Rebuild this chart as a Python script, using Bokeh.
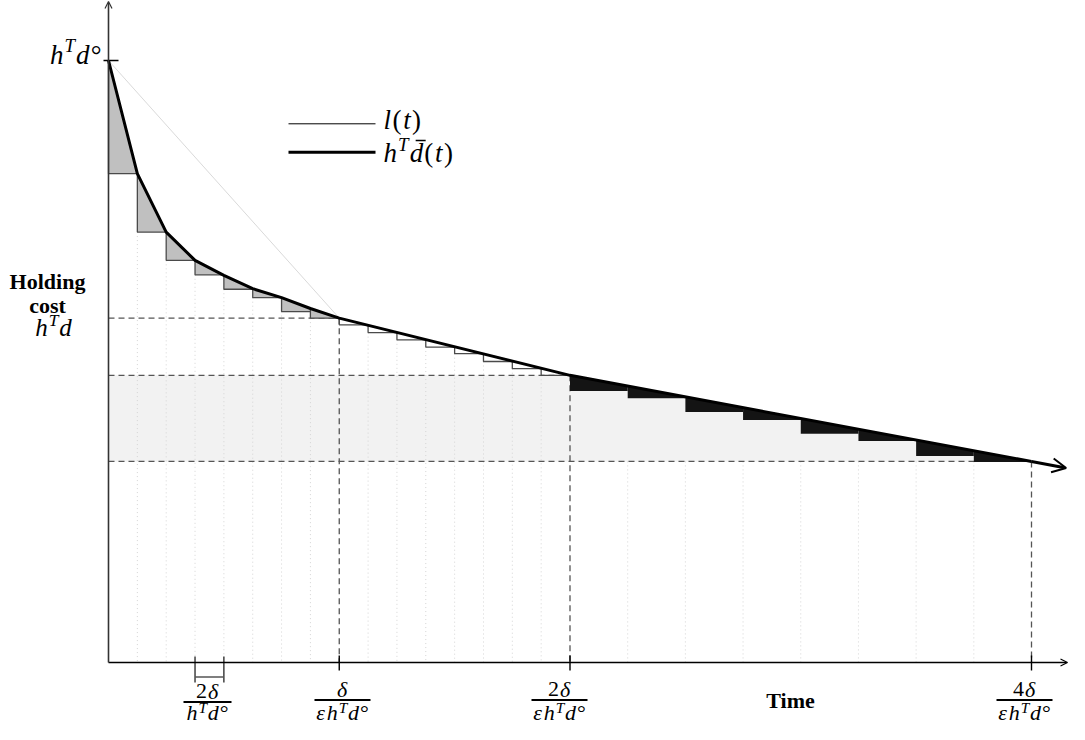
import numpy as np
from bokeh.plotting import figure
from bokeh.models import Range1d, Arrow, OpenHead
from bokeh.core.properties import value
from bokeh.embed import file_html
from bokeh.resources import INLINE

# ---------------- data (time in units of 2δ/(hᵀd°), cost with hᵀd° = 100) ----------------
KNOT_T = [0, 1, 2, 3, 4, 5, 6, 7, 8, 16, 32]
KNOT_C = [100.0, 81.2, 71.5, 66.8, 64.3, 62.1, 60.6, 58.8, 57.2, 47.7, 33.4]
CURVE_TIP_T, CURVE_TIP_C = 33.2, 32.3

STEP1_T = [0, 1, 2, 3, 4, 5, 6, 7, 8]
STEP1_C = [81.2, 71.5, 66.8, 64.4, 62.0, 60.6, 58.3, 57.2]
STEP2_T = [8, 9, 10, 11, 12, 13, 14, 15, 16]
STEP2_C = [56.1, 54.8, 53.6, 52.4, 51.3, 50.0, 48.8, 47.7]
STEP3_T = [16, 18, 20, 22, 24, 26, 28, 30, 32]
STEP3_C = [45.1, 43.9, 41.6, 40.3, 38.0, 36.8, 34.3, 33.3]

LINE_T = [0, 8]          # l(t)
LINE_C = [100.0, 57.2]

TICK_T = [8, 16, 32]
LEVEL_C = [57.2, 47.7, 33.4]
SMALL_T = [3, 4]

# ---------------- geometry helpers (reference pixel -> data) ----------------
OX, OY = 108.0, 662.0
PX_T = 923.0 / 32.0
PX_C = 6.02
W_FIG, H_FIG = 1069, 724


def tx(px):
    return (px - OX) / PX_T


def cy(py):
    return (OY - py) / PX_C


def curve_at(t):
    return float(np.interp(t, KNOT_T, KNOT_C))


p = figure(width=W_FIG, height=H_FIG, output_backend="svg", toolbar_location=None,
           x_axis_type=None, y_axis_type=None,
           x_range=Range1d(tx(0), tx(W_FIG)), y_range=Range1d(cy(H_FIG), cy(0)),
           min_border=0, min_border_left=0, min_border_right=0,
           min_border_top=0, min_border_bottom=0)
p.grid.visible = False
p.outline_line_color = None
p.background_fill_color = "white"
p.border_fill_color = "white"

# light grey band under the staircase
bx = [0, 0, 16]
by = [LEVEL_C[2], LEVEL_C[1], LEVEL_C[1]]
for i in range(len(STEP3_C)):
    bx += [STEP3_T[i], STEP3_T[i + 1]]
    by += [STEP3_C[i], STEP3_C[i]]
bx += [32]
by += [LEVEL_C[2]]
p.patch(bx, by, fill_color="#f2f2f2", line_color=None)

# faint dotted verticals
dxs, dys = [], []
for i in range(1, 8):
    dxs.append([STEP1_T[i], STEP1_T[i]]); dys.append([STEP1_C[i], 0])
for i in range(1, 8):
    dxs.append([STEP2_T[i], STEP2_T[i]]); dys.append([STEP2_C[i], 0])
for i in range(1, 8):
    dxs.append([STEP3_T[i], STEP3_T[i]]); dys.append([LEVEL_C[2], 0])
p.multi_line(dxs, dys, line_color="#d4d4d4", line_width=1, line_dash="1 3")

# dashed guide lines
for t, c in zip(TICK_T, LEVEL_C):
    p.line([0, t], [c, c], line_color="#555555", line_width=1.3, line_dash="6 4")
    p.line([t, t], [c, 0], line_color="#555555", line_width=1.3, line_dash="6 4")

# grey filled steps (region 1)
pxs, pys = [], []
for i in range(len(STEP1_C)):
    t0, t1 = STEP1_T[i], STEP1_T[i + 1]
    pxs.append([t0, t1, t1, t0]); pys.append([curve_at(t0), curve_at(t1), STEP1_C[i], STEP1_C[i]])
p.patches(pxs, pys, fill_color="#c0c0c0", line_color=None)

# black filled steps (region 3)
pxs, pys = [], []
for i in range(len(STEP3_C)):
    t0, t1 = STEP3_T[i], STEP3_T[i + 1]
    pxs.append([t0, t1, t1, t0]); pys.append([curve_at(t0), curve_at(t1), STEP3_C[i], STEP3_C[i]])
p.patches(pxs, pys, fill_color="#141414", line_color=None)

# staircase outlines
sxs, sys_ = [], []
for T, C in ((STEP1_T, STEP1_C), (STEP2_T, STEP2_C)):
    for i in range(len(C)):
        t0, t1 = T[i], T[i + 1]
        sxs.append([t0, t0, t1]); sys_.append([curve_at(t0), C[i], C[i]])
p.multi_line(sxs, sys_, line_color="#4a4a4a", line_width=1.3)

# l(t)
p.line(LINE_T, LINE_C, line_color="#cfcfcf", line_width=0.8)

# h^T d(t) thick curve with arrow
p.line(KNOT_T, KNOT_C, line_color="black", line_width=3, line_join="round")
p.add_layout(Arrow(x_start=KNOT_T[-1], y_start=KNOT_C[-1], x_end=CURVE_TIP_T, y_end=CURVE_TIP_C,
                   line_width=3, line_color="black",
                   end=OpenHead(size=14, line_width=2, line_color="black")))

# axes
p.add_layout(Arrow(x_start=0, y_start=0, x_end=tx(1067), y_end=0, line_width=1.3, line_color="black",
                   end=OpenHead(size=7, line_width=1.2, line_color="black")))
p.add_layout(Arrow(x_start=0, y_start=0, x_end=0, y_end=cy(1), line_width=1.6, line_color="#333333",
                   end=OpenHead(size=7, line_width=1.2, line_color="#333333")))

# ticks
p.line([tx(103), tx(118)], [KNOT_C[0], KNOT_C[0]], line_color="black", line_width=1.6)
for t in TICK_T:
    p.line([t, t], [cy(655), cy(670)], line_color="black", line_width=1.4)
for t in SMALL_T:
    p.line([t, t], [cy(656), cy(682)], line_color="#333333", line_width=1.4)
p.line([SMALL_T[0], SMALL_T[1]], [cy(676.5), cy(676.5)], line_color="#555555", line_width=1.3)

# legend lines
p.line([tx(288), tx(375)], [cy(123.3), cy(123.3)], line_color="black", line_width=1)
p.line([tx(288), tx(375)], [cy(151.7), cy(151.7)], line_color="black", line_width=3)

# ---------------- text ----------------
MATH = "Liberation Serif"
KB = 0.32   # empirical baseline correction (fraction of font size)
W = {'h': 0.5, 'd': 0.5, 'T': 0.556, 'l': 0.29, 't': 0.29, '(': 0.36, ')': 0.36,
     'δ': 0.5, 'ε': 0.44, '2': 0.5, '4': 0.5, '°': 0.4}


def put_text(x_px, base_px, txt, fs, style, align="left", font=MATH):
    p.text(x=[tx(x_px)], y=[cy(base_px - KB * fs)], text=[txt], text_font=value(font),
           text_font_style=style, text_font_size=f"{fs:.1f}px",
           text_baseline="alphabetic", text_align=align, text_color="black")


def draw_math(x_px, base_px, runs, size, anchor="center", raise_=0.4, gap=0.04):
    pieces = []
    cur = 0.0
    for txt, kind in runs:
        fs = size * 0.7 if kind == "s" else size
        w = sum(W.get(ch, 0.5) for ch in txt) * fs
        pieces.append((txt, cur, fs, kind, w))
        cur += w + gap * size
    total = cur - gap * size
    start = {"left": x_px, "center": x_px - total / 2, "right": x_px - total}[anchor]
    for txt, off, fs, kind, w in pieces:
        yb = base_px - (raise_ * size if kind == "s" else 0.0)
        style = "normal" if txt in ("2", "4", "(", ")", "°") else "italic"
        put_text(start + off, yb, txt, fs, style)
    return start, pieces


HTD = [("h", "n"), ("T", "s"), ("d", "n"), ("°", "n")]
EHTD = [("ε", "n")] + HTD


def fraction(cx, num, den, num_base, bar_y, den_base, half, size=22):
    draw_math(cx, num_base, num, size, raise_=0.3)
    draw_math(cx, den_base, den, size, raise_=0.3)
    p.line([tx(cx - half), tx(cx + half)], [cy(bar_y), cy(bar_y)], line_color="black", line_width=2)


fraction(207, [("2", "n"), ("δ", "n")], HTD, 698, 701.5, 719, 24)
fraction(342, [("δ", "n")], EHTD, 696, 699.5, 719, 28)
fraction(559, [("2", "n"), ("δ", "n")], EHTD, 696, 699.5, 719, 28)
fraction(1024, [("4", "n"), ("δ", "n")], EHTD, 696, 699.5, 719, 28)

# top y label
draw_math(101, 63.5, HTD, 27, anchor="right", raise_=0.45)
# y-axis label
put_text(47, 288, "Holding", 22, "bold", align="center")
put_text(47, 312, "cost", 22, "bold", align="center")
draw_math(53, 335, [("h", "n"), ("T", "s"), ("d", "n")], 25, raise_=0.4)
# x-axis label
put_text(790, 707.5, "Time", 22, "bold", align="center")

# legend labels
draw_math(383, 128, [("l", "n"), ("(", "n"), ("t", "n"), (")", "n")], 27, anchor="left")
start, pieces = draw_math(383, 161, [("h", "n"), ("T", "s"), ("d", "n"), ("(", "n"), ("t", "n"), (")", "n")],
                          27, anchor="left")
# bar over d
d_off = pieces[2][1]
p.line([tx(start + d_off + 6), tx(start + d_off + 16)], [cy(161 - 21), cy(161 - 21)],
       line_color="black", line_width=1.4)

open("out.html", "w").write(file_html(p, INLINE))
